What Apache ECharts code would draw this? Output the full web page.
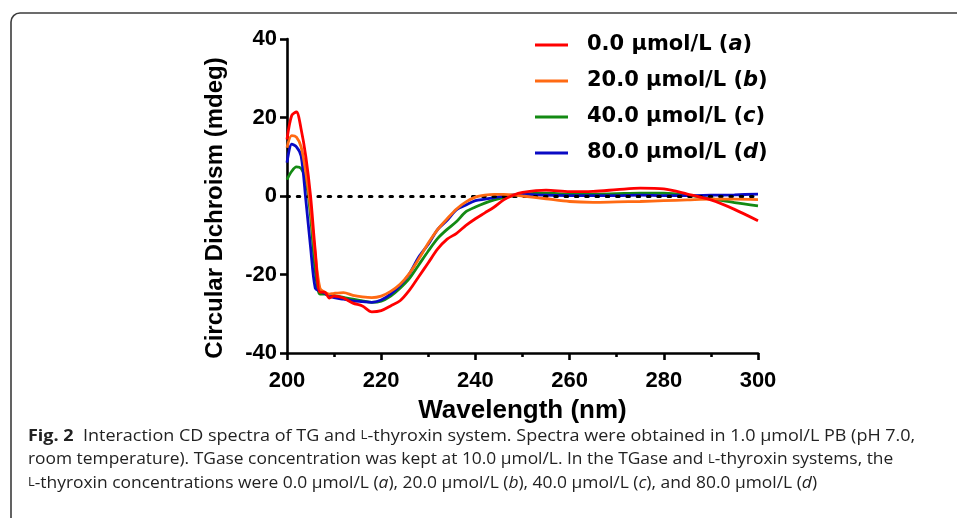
<!DOCTYPE html>
<html>
<head>
<meta charset="utf-8">
<script src="https://cdn.jsdelivr.net/npm/echarts@6/dist/echarts.min.js"></script>
<style>
html,body{margin:0;padding:0;background:#fff;}
#chart{width:957px;height:518px;}
</style>
</head>
<body>
<div id="chart"></div>
<script>
const wavelengths = [200,201,202,203,204,205,206,207,208,209,210,212,214,216,218,220,222,224,226,228,230,232,234,236,238,240,242,244,246,248,250,255,260,265,270,275,280,285,290,295,300];
const seriesNames = ['0.0 µmol/L (a)', '20.0 µmol/L (b)', '40.0 µmol/L (c)', '80.0 µmol/L (d)'];
const valuesA = [14.4,20.5,21.4,17,10,0,-14,-24.5,-24.5,-26,-25.5,-26,-27.3,-28,-29.5,-29.2,-28,-26.7,-24,-20.5,-17,-13.5,-11,-9.5,-7.5,-5.8,-4.3,-2.8,-1.0,0.2,0.9,1.5,1.1,1.2,1.6,2.0,1.8,0.5,-1.0,-3.4,-6.3];
const valuesB = [12.3,15.4,15,12.5,6,-3,-15,-23.5,-24.5,-25,-24.8,-24.6,-25.3,-25.7,-25.9,-25.5,-24.3,-22.5,-19.7,-16,-12,-8.5,-5.8,-3.3,-1.5,-0.3,0.2,0.4,0.4,0.3,0,-0.7,-1.4,-1.6,-1.5,-1.4,-1.2,-1.0,-0.8,-0.8,-0.9];
const valuesC = [4.2,6.3,7.4,7,4.2,-5,-19,-25,-25,-25.3,-25.4,-25.8,-26.3,-26.7,-27.1,-26.8,-25.5,-23.5,-21,-17.5,-14,-10.8,-8.5,-6.5,-4,-2.8,-1.8,-1.0,-0.4,0.1,0.5,0.7,0.5,0.5,0.6,0.7,0.7,0.2,-0.7,-1.7,-2.5];
const valuesD = [8.5,13.2,12.5,10.2,-1,-13,-23.5,-24.2,-24.8,-25.5,-25.9,-26.3,-26.7,-26.9,-27.1,-26.5,-25,-22.8,-19.8,-15.5,-12.3,-8.5,-6.2,-3.5,-2.3,-1.2,-0.8,-0.4,0,0.3,0.4,0.2,0.1,0.1,0.1,0.2,0.1,0.1,0.2,0.3,0.5];
const colors = ['#ff0000', '#ff6a13', '#138a13', '#0a0ac4'];
const xTicks = {min: 200, max: 300, interval: 20};
const yTicks = {min: -40, max: 40, interval: 20};

const allValues = [valuesA, valuesB, valuesC, valuesD];
const zs = [6, 5, 3, 4];
const series = allValues.map((vals, i) => ({
  name: seriesNames[i],
  type: 'line',
  data: wavelengths.map((w, j) => [w, vals[j]]),
  symbol: 'none',
  smooth: 0.3,
  z: zs[i],
  lineStyle: {color: colors[i], width: 2.8},
  itemStyle: {color: colors[i]}
}));
series.push({
  name: 'zero',
  type: 'line',
  data: [],
  z: 1,
  markLine: {
    silent: true,
    symbol: ['none', 'none'],
    label: {show: false},
    lineStyle: {color: '#000', width: 3, type: [2.5, 7.8], cap: 'round'},
    data: [{yAxis: 0}]
  }
});

const chart = echarts.init(document.getElementById('chart'));
const boldFont = '"Liberation Sans", Arial, sans-serif';
const legendFont = '"DejaVu Sans", sans-serif';
const capFont = '"Open Sans", sans-serif';
const capRich = {
  b: {font: 'bold 16px ' + capFont, fill: '#222'},
  s: {font: '11.8px ' + capFont, fill: '#222'},
  i: {font: 'italic 16px ' + capFont, fill: '#222'}
};
chart.setOption({
  animation: false,
  backgroundColor: '#fff',
  grid: {left: 287, right: 199, top: 39, bottom: 165, containLabel: false},
  xAxis: {
    type: 'value', min: xTicks.min, max: xTicks.max, interval: xTicks.interval,
    name: 'Wavelength (nm)', nameLocation: 'middle', nameGap: 45,
    nameTextStyle: {fontFamily: boldFont, fontWeight: 'bold', fontSize: 26, color: '#000'},
    axisLine: {onZero: false, lineStyle: {color: '#000', width: 2.6}},
    axisTick: {length: 7, lineStyle: {color: '#000', width: 2.6}},
    minorTick: {show: true, splitNumber: 2, length: 4, lineStyle: {color: '#000', width: 2.6}},
    splitLine: {show: false},
    axisLabel: {fontFamily: boldFont, fontWeight: 'bold', fontSize: 22, color: '#000', margin: 17}
  },
  yAxis: {
    type: 'value', min: yTicks.min, max: yTicks.max, interval: yTicks.interval,
    name: 'Circular Dichroism (mdeg)', nameLocation: 'middle', nameGap: 60,
    nameTextStyle: {fontFamily: boldFont, fontWeight: 'bold', fontSize: 24, color: '#000', padding: [0, 24, 0, 0]},
    axisLine: {onZero: false, lineStyle: {color: '#000', width: 2.6}},
    axisTick: {length: 7, lineStyle: {color: '#000', width: 2.6}},
    splitLine: {show: false},
    axisLabel: {fontFamily: boldFont, fontWeight: 'bold', fontSize: 22, color: '#000', margin: 10}
  },
  legend: {
    orient: 'vertical', left: 530, top: 29,
    data: seriesNames,
    icon: 'rect', itemWidth: 33, itemHeight: 3, itemGap: 14,
    formatter: function (name) {
      const m = name.match(/^(.*)\((\w)\)$/);
      return m[1] + '({i|' + m[2] + '}{p|)}';
    },
    textStyle: {
      fontFamily: legendFont, fontWeight: 'bold', fontSize: 21, lineHeight: 22, color: '#000', padding: [0, 0, 0, 14],
      rich: {
        i: {fontFamily: legendFont, fontWeight: 'bold', fontStyle: 'italic', fontSize: 21, lineHeight: 22, color: '#000'},
        p: {fontFamily: legendFont, fontWeight: 'bold', fontSize: 21, lineHeight: 22, color: '#000'}
      }
    }
  },
  graphic: [
    {type: 'rect', shape: {x: 11, y: 13, width: 1200, height: 800, r: 9},
     style: {fill: 'none', stroke: '#3c3c3c', lineWidth: 1.6}, z: 0, silent: true},
    {type: 'text', x: 28, y: 428, scaleX: 1.124, z: 10,
     style: {
       text: '{b|Fig. 2}  Interaction CD spectra of TG and {s|L}-thyroxin system. Spectra were obtained in 1.0 µmol/L PB (pH 7.0,',
       font: '16px ' + capFont, fill: '#222', rich: capRich
     }},
    {type: 'text', x: 28, y: 451.5, scaleX: 1.086, z: 10,
     style: {
       text: 'room temperature). TGase concentration was kept at 10.0 µmol/L. In the TGase and {s|L}-thyroxin systems, the',
       font: '16px ' + capFont, fill: '#222', rich: capRich
     }},
    {type: 'text', x: 28, y: 475, scaleX: 1.088, z: 10,
     style: {
       text: '{s|L}-thyroxin concentrations were 0.0 µmol/L ({i|a}), 20.0 µmol/L ({i|b}), 40.0 µmol/L ({i|c}), and 80.0 µmol/L ({i|d})',
       font: '16px ' + capFont, fill: '#222', rich: capRich
     }}
  ],
  series: series
});
</script>
</body>
</html>
